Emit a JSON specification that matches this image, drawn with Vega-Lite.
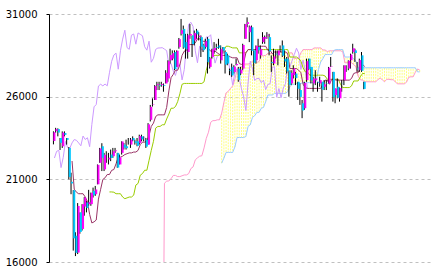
{
"$schema":"https://vega.github.io/schema/vega-lite/v6.json",
"width":381,"height":248,
"autosize":{"type":"none"},
"padding":{"left":49,"top":14,"right":1,"bottom":14},
"background":"white",
"config":{"view":{"stroke":null},"axis":{"title":null}},
"datasets":{
"candles":[
{"i":0,"o":23320,"h":23903,"l":23115,"c":23850},{"i":1,"o":23916,"h":24115,"l":23820,"c":24041},{"i":2,"o":24040,"h":24083,"l":23600,"c":23827},{"i":3,"o":23500,"h":23500,"l":22775,"c":23205},{"i":4,"o":23000,"h":23900,"l":22900,"c":23827},{"i":5,"o":23800,"h":23900,"l":23600,"c":23687},{"i":6,"o":23500,"h":23500,"l":23100,"c":23386},{"i":7,"o":22900,"h":22950,"l":21000,"c":21142},{"i":8,"o":20850,"h":21400,"l":20100,"c":20749},{"i":9,"o":20340,"h":20350,"l":16690,"c":17431},
{"i":10,"o":17590,"h":17800,"l":16358,"c":16552},{"i":11,"o":16570,"h":19564,"l":16480,"c":19389},{"i":12,"o":19000,"h":19000,"l":17707,"c":17820},{"i":13,"o":18000,"h":19500,"l":17900,"c":19498},{"i":14,"o":19350,"h":19922,"l":18800,"c":19897},{"i":15,"o":19600,"h":19700,"l":19000,"c":19262},{"i":16,"o":19500,"h":20365,"l":19400,"c":19619},{"i":17,"o":19500,"h":20200,"l":19400,"c":20179},{"i":18,"o":20300,"h":20500,"l":19900,"c":20037},{"i":19,"o":20100,"h":20600,"l":20000,"c":20388},
{"i":20,"o":20700,"h":21900,"l":20700,"c":21877},{"i":21,"o":22000,"h":22900,"l":22000,"c":22863},{"i":22,"o":23000,"h":23185,"l":21500,"c":22305},{"i":23,"o":21600,"h":22600,"l":21500,"c":22478},{"i":24,"o":22500,"h":22700,"l":22000,"c":22512},{"i":25,"o":22200,"h":22600,"l":21900,"c":22306},{"i":26,"o":22500,"h":22800,"l":22100,"c":22290},{"i":27,"o":22400,"h":22900,"l":22300,"c":22696},{"i":28,"o":22700,"h":22900,"l":22600,"c":22751},{"i":29,"o":22600,"h":22600,"l":21700,"c":21710},
{"i":30,"o":21900,"h":22500,"l":21900,"c":22329},{"i":31,"o":22600,"h":23300,"l":22500,"c":23289},{"i":32,"o":23100,"h":23200,"l":22800,"c":22920},{"i":33,"o":23000,"h":23400,"l":22800,"c":22882},{"i":34,"o":23200,"h":23500,"l":23100,"c":23205},{"i":35,"o":23100,"h":23500,"l":22900,"c":23406},{"i":36,"o":23500,"h":23600,"l":23300,"c":23360},{"i":37,"o":23300,"h":23400,"l":23100,"c":23204},{"i":38,"o":23300,"h":23500,"l":23000,"c":23029},{"i":39,"o":23200,"h":23700,"l":23100,"c":23619},
{"i":40,"o":23600,"h":23700,"l":23300,"c":23410},{"i":41,"o":23500,"h":23600,"l":23300,"c":23516},{"i":42,"o":23400,"h":23500,"l":22900,"c":22977},{"i":43,"o":23100,"h":24400,"l":23100,"c":24325},{"i":44,"o":24600,"h":25500,"l":24500,"c":25385},{"i":45,"o":25500,"h":25900,"l":25400,"c":25527},{"i":46,"o":25800,"h":26700,"l":25800,"c":26644},{"i":47,"o":26700,"h":26900,"l":26400,"c":26751},{"i":48,"o":26700,"h":26900,"l":26400,"c":26652},{"i":49,"o":26700,"h":26900,"l":26600,"c":26763},
{"i":50,"o":26700,"h":26800,"l":26300,"c":26656},{"i":51,"o":26800,"h":27600,"l":26800,"c":27444},{"i":52,"o":27100,"h":28200,"l":26900,"c":28139},{"i":53,"o":28200,"h":28900,"l":28000,"c":28519},{"i":54,"o":28300,"h":28800,"l":28200,"c":28631},{"i":55,"o":28700,"h":28800,"l":27600,"c":27663},{"i":56,"o":27800,"h":28800,"l":27800,"c":28779},{"i":57,"o":29000,"h":29550,"l":28900,"c":29480},{"i":58,"o":29800,"h":30700,"l":29700,"c":30018},{"i":59,"o":30100,"h":30300,"l":28900,"c":28966},
{"i":60,"o":29300,"h":29800,"l":28300,"c":28864},{"i":61,"o":28700,"h":29800,"l":28300,"c":29717},{"i":62,"o":29700,"h":30400,"l":29500,"c":29792},{"i":63,"o":29700,"h":29700,"l":28400,"c":29176},{"i":64,"o":29400,"h":30000,"l":29100,"c":29854},{"i":65,"o":30000,"h":30100,"l":29500,"c":29768},{"i":66,"o":29600,"h":29900,"l":29400,"c":29683},{"i":67,"o":29600,"h":29700,"l":28400,"c":29020},{"i":68,"o":29100,"h":29200,"l":28700,"c":28813},{"i":69,"o":29000,"h":29500,"l":28900,"c":29357},
{"i":70,"o":29500,"h":29600,"l":27400,"c":28084},{"i":71,"o":27800,"h":28400,"l":27700,"c":28317},{"i":72,"o":28400,"h":28900,"l":28300,"c":28860},{"i":73,"o":28800,"h":29300,"l":28600,"c":28941},{"i":74,"o":29000,"h":29200,"l":28800,"c":28948},{"i":75,"o":29100,"h":29500,"l":28900,"c":28964},{"i":76,"o":28200,"h":29100,"l":28000,"c":28875},{"i":77,"o":29000,"h":29000,"l":28600,"c":28783},{"i":78,"o":28700,"h":28800,"l":27400,"c":27940},{"i":79,"o":28500,"h":28600,"l":27900,"c":28003},
{"i":80,"o":27600,"h":27700,"l":27300,"c":27548},{"i":81,"o":27800,"h":28000,"l":27200,"c":27283},{"i":82,"o":27500,"h":27900,"l":27400,"c":27820},{"i":83,"o":27900,"h":28300,"l":27900,"c":27977},{"i":84,"o":27700,"h":27800,"l":26900,"c":27013},{"i":85,"o":27400,"h":27800,"l":27300,"c":27641},{"i":86,"o":27700,"h":29200,"l":27600,"c":29128},{"i":87,"o":29500,"h":30400,"l":29500,"c":30381},{"i":88,"o":30400,"h":30795,"l":30200,"c":30500},{"i":89,"o":29900,"h":30300,"l":29300,"c":30248},
{"i":90,"o":30200,"h":30300,"l":28500,"c":28771},{"i":91,"o":28800,"h":28800,"l":27300,"c":28048},{"i":92,"o":28200,"h":29100,"l":28000,"c":29068},{"i":93,"o":29000,"h":29500,"l":28600,"c":28804},{"i":94,"o":28500,"h":29100,"l":28300,"c":28892},{"i":95,"o":29300,"h":29900,"l":29200,"c":29611},{"i":96,"o":29500,"h":29700,"l":29200,"c":29609},{"i":97,"o":29700,"h":29900,"l":29500,"c":29745},{"i":98,"o":29600,"h":29800,"l":28500,"c":28751},{"i":99,"o":28100,"h":28500,"l":27500,"c":28029},
{"i":100,"o":28000,"h":28900,"l":27900,"c":28437},{"i":101,"o":28600,"h":28800,"l":28300,"c":28545},{"i":102,"o":28500,"h":28800,"l":27900,"c":28782},{"i":103,"o":28800,"h":29100,"l":28700,"c":28791},{"i":104,"o":29100,"h":29400,"l":28400,"c":28478},{"i":105,"o":28300,"h":28800,"l":27800,"c":28124},{"i":106,"o":28300,"h":28400,"l":27400,"c":27522},{"i":107,"o":27500,"h":27600,"l":26000,"c":26717},{"i":108,"o":26800,"h":27600,"l":26700,"c":27440},{"i":109,"o":27300,"h":27900,"l":27100,"c":27697},
{"i":110,"o":27400,"h":27500,"l":26700,"c":27122},{"i":111,"o":26900,"h":26900,"l":25800,"c":26476},{"i":112,"o":26400,"h":26800,"l":25500,"c":25985},{"i":113,"o":25600,"h":25800,"l":24700,"c":25162},{"i":114,"o":25300,"h":26900,"l":25200,"c":26827},{"i":115,"o":27000,"h":28300,"l":26900,"c":28149},{"i":116,"o":28300,"h":28300,"l":27600,"c":27666},{"i":117,"o":27800,"h":27800,"l":26800,"c":26985},{"i":118,"o":26800,"h":27200,"l":26300,"c":27093},{"i":119,"o":27000,"h":27600,"l":26700,"c":27105},
{"i":120,"o":26900,"h":26900,"l":26300,"c":26847},{"i":121,"o":26800,"h":27200,"l":26600,"c":27003},{"i":122,"o":26900,"h":26900,"l":25700,"c":26427},{"i":123,"o":26600,"h":27000,"l":26400,"c":26739},{"i":124,"o":26800,"h":27000,"l":26400,"c":26781},{"i":125,"o":26800,"h":27800,"l":26800,"c":27761},{"i":126,"o":27800,"h":28400,"l":27800,"c":27824},{"i":127,"o":27500,"h":27500,"l":25700,"c":25963},{"i":128,"o":26100,"h":26500,"l":25600,"c":26491},{"i":129,"o":26600,"h":27100,"l":25900,"c":25936},
{"i":130,"o":25900,"h":26550,"l":25700,"c":26517},{"i":131,"o":26800,"h":27000,"l":26300,"c":26788},{"i":132,"o":27000,"h":27900,"l":26700,"c":27880},{"i":133,"o":27800,"h":27900,"l":27500,"c":27802},{"i":134,"o":27700,"h":28200,"l":27600,"c":28176},{"i":135,"o":28200,"h":28600,"l":27700,"c":28547},{"i":136,"o":28700,"h":29200,"l":28600,"c":28930},{"i":137,"o":28800,"h":28900,"l":28100,"c":28641},{"i":138,"o":27700,"h":28100,"l":27500,"c":27650},{"i":139,"o":27600,"h":28300,"l":27500,"c":28214},
{"i":140,"o":28500,"h":28700,"l":27500,"c":27567},{"i":141,"o":26900,"h":26900,"l":26450,"c":26470}
],
"lines":[
{"i":0,"chikou":22290},{"i":1,"chikou":22696},{"i":2,"chikou":22751},{"i":3,"chikou":21710},{"i":4,"chikou":22329},{"i":5,"chikou":23289},{"i":6,"chikou":22920},{"i":7,"chikou":22882},
{"i":8,"chikou":23205,"tenkan":22108},{"i":9,"chikou":23406,"tenkan":20403},{"i":10,"chikou":23360,"tenkan":20221},{"i":11,"chikou":23204,"tenkan":20129},{"i":12,"chikou":23029,"tenkan":20129},{"i":13,"chikou":23619,"tenkan":20129},{"i":14,"chikou":23410,"tenkan":19929},{"i":15,"chikou":23516,"tenkan":19654},{"i":16,"chikou":22977,"tenkan":18879},{"i":17,"chikou":24325,"tenkan":18362},{"i":18,"chikou":25385,"tenkan":18429},{"i":19,"chikou":25527,"tenkan":18540},{"i":20,"chikou":26644,"tenkan":19804},{"i":21,"chikou":26751,"tenkan":20400},{"i":22,"chikou":26652,"tenkan":20993},{"i":23,"chikou":26763,"tenkan":21093},{"i":24,"chikou":26656,"tenkan":21293},
{"i":25,"chikou":27444,"tenkan":21293,"kijun":20237},{"i":26,"chikou":28139,"tenkan":21543,"kijun":20237},{"i":27,"chikou":28519,"tenkan":21593,"kijun":20221},{"i":28,"chikou":28631,"tenkan":21943,"kijun":20129},{"i":29,"chikou":27663,"tenkan":22343,"kijun":20129},{"i":30,"chikou":28779,"tenkan":22343,"kijun":20129},{"i":31,"chikou":29480,"tenkan":22400,"kijun":19929},{"i":32,"chikou":30018,"tenkan":22500,"kijun":19829},{"i":33,"chikou":28966,"tenkan":22550,"kijun":19879},{"i":34,"chikou":28864,"tenkan":22600,"kijun":19929},{"i":35,"chikou":29717,"tenkan":22600,"kijun":19929},{"i":36,"chikou":29792,"tenkan":22650,"kijun":20040},{"i":37,"chikou":29176,"tenkan":22650,"kijun":20654},{"i":38,"chikou":29854,"tenkan":22750,"kijun":20750},{"i":39,"chikou":29768,"tenkan":23100,"kijun":21250},{"i":40,"chikou":29683,"tenkan":23250,"kijun":21350},{"i":41,"chikou":29020,"tenkan":23250,"kijun":21550},{"i":42,"chikou":28813,"tenkan":23300,"kijun":21550},{"i":43,"chikou":29357,"tenkan":23650,"kijun":22150},{"i":44,"chikou":28084,"tenkan":24200,"kijun":22750},{"i":45,"chikou":28317,"tenkan":24400,"kijun":23300},{"i":46,"chikou":28860,"tenkan":24800,"kijun":24100},{"i":47,"chikou":28941,"tenkan":24900,"kijun":24200},{"i":48,"chikou":28948,"tenkan":24900,"kijun":24200},
{"i":49,"chikou":28964,"tenkan":24900,"kijun":24300,"spanA":0},{"i":50,"chikou":28875,"tenkan":24900,"kijun":24300,"spanA":20765},{"i":51,"chikou":28783,"tenkan":25350,"kijun":24650,"spanA":20890},{"i":52,"chikou":27940,"tenkan":26350,"kijun":24950,"spanA":20907},{"i":53,"chikou":28003,"tenkan":27150,"kijun":25300,"spanA":21036},{"i":54,"chikou":27548,"tenkan":27350,"kijun":25300,"spanA":21236},{"i":55,"chikou":27283,"tenkan":27600,"kijun":25400,"spanA":21236},{"i":56,"chikou":27820,"tenkan":27600,"kijun":25700,"spanA":21165},{"i":57,"chikou":27977,"tenkan":27925,"kijun":26175,"spanA":21165},{"i":58,"chikou":27013,"tenkan":28500,"kijun":26750,"spanA":21215},{"i":59,"chikou":27641,"tenkan":28750,"kijun":26800,"spanA":21265},{"i":60,"chikou":29128,"tenkan":28800,"kijun":26800,"spanA":21265},{"i":61,"chikou":30381,"tenkan":29150,"kijun":26800,"spanA":21345},{"i":62,"chikou":30500,"tenkan":29150,"kijun":26800,"spanA":21652},{"i":63,"chikou":30248,"tenkan":29150,"kijun":26800,"spanA":21750},{"i":64,"chikou":28771,"tenkan":29250,"kijun":26800,"spanA":22175},{"i":65,"chikou":28048,"tenkan":29500,"kijun":26800,"spanA":22300},{"i":66,"chikou":29068,"tenkan":29500,"kijun":26800,"spanA":22400},{"i":67,"chikou":28804,"tenkan":29350,"kijun":26800,"spanA":22425},{"i":68,"chikou":28892,"tenkan":29350,"kijun":26900,"spanA":22900},{"i":69,"chikou":29611,"tenkan":29350,"kijun":27600,"spanA":23475},{"i":70,"chikou":29609,"tenkan":28900,"kijun":28050,"spanA":23850},{"i":71,"chikou":29745,"tenkan":28750,"kijun":28250,"spanA":24450},{"i":72,"chikou":28751,"tenkan":28750,"kijun":28500,"spanA":24550},{"i":73,"chikou":28029,"tenkan":28750,"kijun":28500,"spanA":24550},{"i":74,"chikou":28437,"tenkan":28650,"kijun":28500,"spanA":24600},{"i":75,"chikou":28545,"tenkan":28550,"kijun":28500,"spanA":24600},
{"i":76,"chikou":28782,"tenkan":28500,"kijun":28750,"spanA":25000,"spanB":21979},{"i":77,"chikou":28791,"tenkan":28500,"kijun":28800,"spanA":25650,"spanB":22279},{"i":78,"chikou":28478,"tenkan":28500,"kijun":29050,"spanA":26225,"spanB":22629},{"i":79,"chikou":28124,"tenkan":28450,"kijun":29050,"spanA":26325,"spanB":22629},{"i":80,"chikou":27522,"tenkan":28400,"kijun":29000,"spanA":26500,"spanB":22629},{"i":81,"chikou":26717,"tenkan":28350,"kijun":28950,"spanA":26650,"spanB":22629},{"i":82,"chikou":27440,"tenkan":28350,"kijun":28950,"spanA":27050,"spanB":22954},{"i":83,"chikou":27697,"tenkan":28350,"kijun":28950,"spanA":27625,"spanB":23529},{"i":84,"chikou":27122,"tenkan":28000,"kijun":28650,"spanA":27775,"spanB":23529},{"i":85,"chikou":26476,"tenkan":27950,"kijun":28650,"spanA":27800,"spanB":23529},{"i":86,"chikou":25985,"tenkan":28050,"kijun":28650,"spanA":27975,"spanB":23529},{"i":87,"chikou":25162,"tenkan":28650,"kijun":28650,"spanA":27975,"spanB":23590},{"i":88,"chikou":26827,"tenkan":28848,"kijun":28848,"spanA":27975,"spanB":24204},{"i":89,"chikou":28149,"tenkan":28848,"kijun":28848,"spanA":28025,"spanB":24300},{"i":90,"chikou":27666,"tenkan":28848,"kijun":28848,"spanA":28150,"spanB":24750},{"i":91,"chikou":26985,"tenkan":28848,"kijun":28848,"spanA":28150,"spanB":24850},{"i":92,"chikou":27093,"tenkan":28848,"kijun":28848,"spanA":28075,"spanB":25050},{"i":93,"chikou":27105,"tenkan":29048,"kijun":28848,"spanA":28125,"spanB":25050},{"i":94,"chikou":26847,"tenkan":29048,"kijun":28848,"spanA":28475,"spanB":25300},{"i":95,"chikou":27003,"tenkan":29048,"kijun":28848,"spanA":28475,"spanB":25350},{"i":96,"chikou":26427,"tenkan":29048,"kijun":28848,"spanA":28500,"spanB":25700},{"i":97,"chikou":26739,"tenkan":28800,"kijun":28848,"spanA":28625,"spanB":26100},{"i":98,"chikou":26781,"tenkan":28800,"kijun":28848,"spanA":28625,"spanB":26100},{"i":99,"chikou":27761,"tenkan":28600,"kijun":28848,"spanA":28575,"spanB":26100},
{"i":100,"chikou":27824,"tenkan":28700,"kijun":28848,"spanA":28525,"spanB":26200},{"i":101,"chikou":25963,"tenkan":28700,"kijun":28848,"spanA":28625,"spanB":26200},{"i":102,"chikou":26491,"tenkan":28700,"kijun":28848,"spanA":28650,"spanB":26200},{"i":103,"chikou":25936,"tenkan":28700,"kijun":28848,"spanA":28775,"spanB":26200},{"i":104,"chikou":26517,"tenkan":28700,"kijun":28848,"spanA":28750,"spanB":26200},{"i":105,"chikou":26788,"tenkan":28700,"kijun":28848,"spanA":28700,"spanB":26200},{"i":106,"chikou":27880,"tenkan":28600,"kijun":28848,"spanA":28650,"spanB":26300},{"i":107,"chikou":27802,"tenkan":27700,"kijun":28398,"spanA":28650,"spanB":26600},{"i":108,"chikou":28176,"tenkan":27700,"kijun":28398,"spanA":28650,"spanB":26750},{"i":109,"chikou":28547,"tenkan":27700,"kijun":28398,"spanA":28325,"spanB":26750},{"i":110,"chikou":28930,"tenkan":27700,"kijun":28398,"spanA":28300,"spanB":26800},{"i":111,"chikou":28641,"tenkan":27600,"kijun":28298,"spanA":28350,"spanB":26800},{"i":112,"chikou":27650,"tenkan":27450,"kijun":28148,"spanA":28650,"spanB":26800},{"i":113,"chikou":28214,"tenkan":26750,"kijun":27748,"spanA":28848,"spanB":26848},{"i":114,"chikou":27567,"tenkan":26550,"kijun":27500,"spanA":28848,"spanB":26848},{"i":115,"chikou":26470,"tenkan":26500,"kijun":27500,"spanA":28848,"spanB":26848},
{"i":116,"tenkan":26500,"kijun":27300,"spanA":28848,"spanB":26848},{"i":117,"tenkan":26500,"kijun":27300,"spanA":28848,"spanB":26848},{"i":118,"tenkan":26500,"kijun":27300,"spanA":28948,"spanB":26848},{"i":119,"tenkan":26500,"kijun":27300,"spanA":28948,"spanB":26948},{"i":120,"tenkan":26500,"kijun":27300,"spanA":28948,"spanB":27648},{"i":121,"tenkan":26500,"kijun":27300,"spanA":28948,"spanB":28098},{"i":122,"tenkan":26750,"kijun":27300,"spanA":28824,"spanB":28298},{"i":123,"tenkan":27000,"kijun":27250,"spanA":28824,"spanB":28548},{"i":124,"tenkan":27000,"kijun":27050,"spanA":28724,"spanB":28548},{"i":125,"tenkan":26750,"kijun":27050,"spanA":28774,"spanB":28548},{"i":126,"tenkan":27050,"kijun":27050,"spanA":28774,"spanB":28548},{"i":127,"tenkan":27050,"kijun":27050,"spanA":28774,"spanB":28798},{"i":128,"tenkan":27000,"kijun":27050,"spanA":28774,"spanB":28848},{"i":129,"tenkan":27000,"kijun":27050,"spanA":28774,"spanB":28848},{"i":130,"tenkan":27000,"kijun":26750,"spanA":28774,"spanB":28848},{"i":131,"tenkan":27000,"kijun":26550,"spanA":28724,"spanB":28848},{"i":132,"tenkan":27000,"kijun":26550,"spanA":28049,"spanB":28398},{"i":133,"tenkan":27000,"kijun":26550,"spanA":28049,"spanB":28398},{"i":134,"tenkan":27000,"kijun":26550,"spanA":28049,"spanB":28398},{"i":135,"tenkan":27100,"kijun":26650,"spanA":28049,"spanB":28398},{"i":136,"tenkan":27400,"kijun":26950,"spanA":27949,"spanB":28298},{"i":137,"tenkan":27450,"kijun":26950,"spanA":27799,"spanB":28148},{"i":138,"tenkan":27450,"kijun":26950,"spanA":27249,"spanB":27748},{"i":139,"tenkan":27750,"kijun":27200,"spanA":27025,"spanB":27748},{"i":140,"tenkan":27950,"kijun":27400,"spanA":27000,"spanB":27748},{"i":141,"tenkan":27825,"kijun":27400,"spanA":26900,"spanB":27748},
{"i":142,"spanA":26900,"spanB":27748},{"i":143,"spanA":26900,"spanB":27748},{"i":144,"spanA":26900,"spanB":27748},{"i":145,"spanA":26900,"spanB":27748},{"i":146,"spanA":26900,"spanB":27748},{"i":147,"spanA":27025,"spanB":27748},{"i":148,"spanA":27125,"spanB":27748},{"i":149,"spanA":27025,"spanB":27748},{"i":150,"spanA":26900,"spanB":27748},{"i":151,"spanA":27050,"spanB":27748},{"i":152,"spanA":27050,"spanB":27748},{"i":153,"spanA":27025,"spanB":27748},{"i":154,"spanA":27025,"spanB":27748},{"i":155,"spanA":26875,"spanB":27748},{"i":156,"spanA":26775,"spanB":27748},{"i":157,"spanA":26775,"spanB":27748},{"i":158,"spanA":26775,"spanB":27748},{"i":159,"spanA":26775,"spanB":27748},{"i":160,"spanA":26875,"spanB":27748},{"i":161,"spanA":27175,"spanB":27748},{"i":162,"spanA":27200,"spanB":27748},{"i":163,"spanA":27200,"spanB":27748},{"i":164,"spanA":27475,"spanB":27748},{"i":165,"spanA":27675,"spanB":27500},{"i":166,"spanA":27613,"spanB":27500}
]},
"layer":[
{"data":{"name":"lines"},"transform":[{"filter":"isValid(datum.spanB)"}],
 "mark":{"type":"rule","color":"#ffff80","strokeWidth":1,"strokeDash":[2,1]},
 "encoding":{
  "x":{"field":"i","type":"quantitative","scale":{"domain":[-0.2,168.4],"nice":false,"zero":false},"axis":null},
  "y":{"field":"spanA","type":"quantitative","scale":{"domain":[16000,31000],"nice":false,"zero":false},
   "axis":{"values":[16000,21000,26000,31000],"format":"d","grid":true,"gridColor":"#c0c0c0","gridDash":[3,3],"gridWidth":1,"domainColor":"#000000","domainWidth":1,"tickColor":"#000000","tickSize":3,"labelFont":"DejaVu Sans","labelFontSize":10,"labelColor":"#000000","labelPadding":9,"title":null}},
  "y2":{"field":"spanB"}}},
{"data":{"name":"lines"},"mark":{"type":"line","color":"#ff99cc","strokeWidth":1,"clip":true},
 "encoding":{"x":{"field":"i","type":"quantitative"},"y":{"field":"spanA","type":"quantitative"}}},
{"data":{"name":"lines"},"mark":{"type":"line","color":"#99ccff","strokeWidth":1,"clip":true},
 "encoding":{"x":{"field":"i","type":"quantitative"},"y":{"field":"spanB","type":"quantitative"}}},
{"data":{"name":"lines"},"mark":{"type":"line","color":"#cc99ff","strokeWidth":1,"clip":true},
 "encoding":{"x":{"field":"i","type":"quantitative"},"y":{"field":"chikou","type":"quantitative"}}},
{"data":{"name":"lines"},"mark":{"type":"line","color":"#99cc00","strokeWidth":1,"clip":true},
 "encoding":{"x":{"field":"i","type":"quantitative"},"y":{"field":"kijun","type":"quantitative"}}},
{"data":{"name":"lines"},"mark":{"type":"line","color":"#993366","strokeWidth":1,"clip":true},
 "encoding":{"x":{"field":"i","type":"quantitative"},"y":{"field":"tenkan","type":"quantitative"}}},
{"data":{"name":"candles"},"mark":{"type":"rule","color":"#000000","strokeWidth":1,"xOffset":-1,"clip":true},
 "encoding":{"x":{"field":"i","type":"quantitative"},"y":{"field":"l","type":"quantitative"},"y2":{"field":"h"}}},
{"data":{"name":"candles"},"mark":{"type":"bar","width":2,"clip":true},
 "encoding":{"x":{"field":"i","type":"quantitative"},"y":{"field":"o","type":"quantitative"},"y2":{"field":"c"},
  "color":{"condition":{"test":"datum.c >= datum.o","value":"#ff00ff"},"value":"#00c8ff"}}}
]
}
